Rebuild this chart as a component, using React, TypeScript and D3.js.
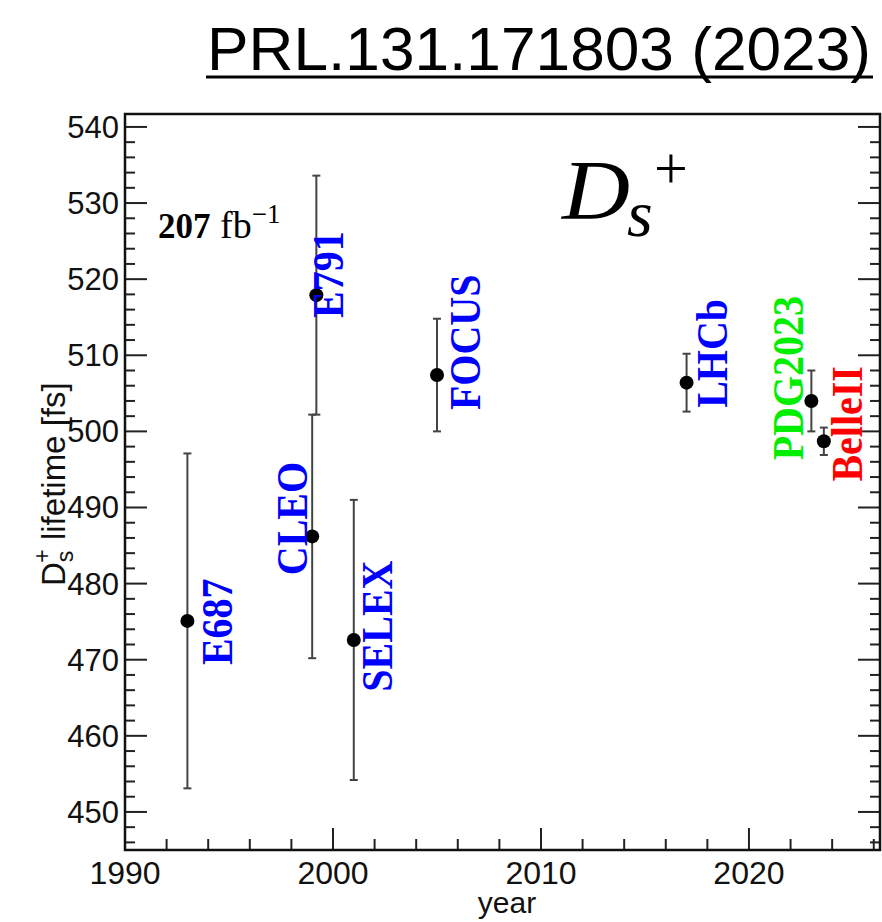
import React from 'react';
import * as d3 from 'd3';

// ---- data ----
const experiments = ['E687', 'CLEO', 'E791', 'SELEX', 'FOCUS', 'LHCb', 'PDG2023', 'BelleII'];
const years = [1993.0, 1999.0, 1999.2, 2001.0, 2005.0, 2017.0, 2023.0, 2023.6];
const lifetimes = [475.1, 486.2, 517.9, 472.6, 507.4, 506.4, 504.0, 498.7];
const errors = [22.0, 16.0, 15.7, 18.4, 7.4, 3.8, 4.0, 1.8];
const labelColors = ['#0000ff', '#0000ff', '#0000ff', '#0000ff', '#0000ff', '#0000ff', '#00ee00', '#ff0000'];
// label anchor (bottom of rotated text, baseline) in data coordinates
const labelYears = [1995.15, 1998.75, 2000.48, 2002.84, 2007.07, 2018.94, 2022.6, 2025.43];
const labelValues = [469.3, 481.1, 514.9, 465.8, 502.8, 503.1, 496.2, 493.4];

const xMajor = [1990, 2000, 2010, 2020];
const yMajor = [450, 460, 470, 480, 490, 500, 510, 520, 530, 540];

const W = 882;
const H = 922;
const L = 125, R = 880, T = 114, B = 850;

export default function App() {
  const x = d3.scaleLinear().domain([1990, 2026.3]).range([L, R]);
  const y = d3.scaleLinear().domain([445, 541.7]).range([B, T]);

  const xMinor = d3.range(1990, 2027, 2).filter(v => v % 10 !== 0 && x(v) < R - 1);
  const yMinor = d3.range(446, 542, 2).filter(v => v % 10 !== 0 && y(v) > T + 1);

  const sans = "'Liberation Sans', Arial, Helvetica, sans-serif";
  const serif = "'Liberation Serif', 'Times New Roman', Times, serif";
  const tickColor = '#222';

  return (
    <svg width={W} height={H} style={{ position: 'absolute', left: 0, top: 0, background: '#fff' }}>
      <rect x={0} y={0} width={W} height={H} fill="#fff" />
      {/* title */}
      <text x={207} y={70} fontFamily={sans} fontSize={62} textLength={664} lengthAdjust="spacingAndGlyphs" fill="#000">
        PRL.131.171803 (2023)
      </text>
      <line x1={206} x2={873} y1={77} y2={77} stroke="#000" strokeWidth={3} />

      {/* y ticks */}
      {yMajor.map(v => (
        <g key={'ym' + v}>
          <line x1={L} x2={L + 22} y1={y(v)} y2={y(v)} stroke={tickColor} strokeWidth={2} />
          <line x1={R} x2={R - 22} y1={y(v)} y2={y(v)} stroke={tickColor} strokeWidth={2} />
          <text x={L - 6} y={y(v) + 11} textAnchor="end" fontFamily={sans} fontSize={31} fill="#111">{v}</text>
        </g>
      ))}
      {yMinor.map(v => (
        <g key={'yn' + v}>
          <line x1={L} x2={L + 10} y1={y(v)} y2={y(v)} stroke={tickColor} strokeWidth={2} />
          <line x1={R} x2={R - 10} y1={y(v)} y2={y(v)} stroke={tickColor} strokeWidth={2} />
        </g>
      ))}
      {/* x ticks */}
      {xMajor.map(v => (
        <g key={'xm' + v}>
          <line x1={x(v)} x2={x(v)} y1={B} y2={B - 22} stroke={tickColor} strokeWidth={2} />
          <text x={x(v)} y={884} textAnchor="middle" fontFamily={sans} fontSize={32} fill="#111">{v}</text>
        </g>
      ))}
      {xMinor.map(v => (
        <line key={'xn' + v} x1={x(v)} x2={x(v)} y1={B} y2={B - 11} stroke={tickColor} strokeWidth={2} />
      ))}

      {/* frame */}
      <rect x={L} y={T} width={R - L} height={B - T} fill="none" stroke="#111" strokeWidth={2.5} />

      {/* axis titles */}
      <text x={507} y={913} textAnchor="middle" fontFamily={sans} fontSize={30} fill="#111">year</text>
      <text transform={`translate(65,586) rotate(-90)`} fontFamily={sans} fontSize={33} fill="#111">
        D<tspan fontSize={23} dy={8}>s</tspan><tspan fontSize={23} dx={-12} dy={-23}>+</tspan><tspan dy={15}> lifetime [fs]</tspan>
      </text>

      {/* error bars and points */}
      {experiments.map((e, i) => {
        const cx = x(years[i]);
        const y1 = y(lifetimes[i] + errors[i]);
        const y2 = y(lifetimes[i] - errors[i]);
        return (
          <g key={'p' + e}>
            <line x1={cx} x2={cx} y1={y1} y2={y2} stroke="#444" strokeWidth={2} />
            <line x1={cx - 4} x2={cx + 4} y1={y1} y2={y1} stroke="#444" strokeWidth={2} />
            <line x1={cx - 4} x2={cx + 4} y1={y2} y2={y2} stroke="#444" strokeWidth={2} />
            <circle cx={cx} cy={y(lifetimes[i])} r={7} fill="#000" />
          </g>
        );
      })}

      {/* experiment labels */}
      {experiments.map((e, i) => (
        <text key={'l' + e}
          transform={`translate(${x(labelYears[i])},${y(labelValues[i])}) rotate(-90) scale(1,1.13)`}
          fontFamily={serif} fontWeight="bold" fontSize={40} fill={labelColors[i]}>
          {e}
        </text>
      ))}

      {/* D_s^+ */}
      <text x={562} y={219} fontFamily={serif} fontStyle="italic" fontSize={84} textLength={68} lengthAdjust="spacingAndGlyphs" fill="#000">D</text>
      <text x={627} y={236} fontFamily={serif} fontStyle="italic" fontSize={66} fill="#000">s</text>
      <text x={654} y={188} fontFamily={serif} fontSize={60} fill="#000">+</text>

      {/* luminosity */}
      <text x={158} y={238} fontFamily={serif} fontSize={38} fill="#000">
        <tspan fontWeight="bold" fontSize={35}>207</tspan> fb<tspan fontSize={27} dy={-15}>−1</tspan>
      </text>
    </svg>
  );
}
